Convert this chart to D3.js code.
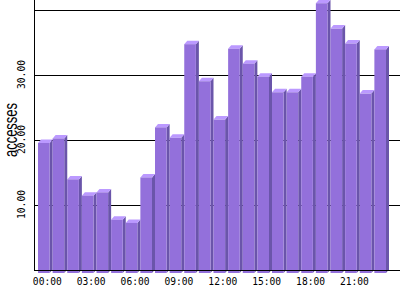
<!DOCTYPE html>
<html><head><meta charset="utf-8">
<script src="https://cdn.jsdelivr.net/npm/d3@7"></script>
<style>html,body{margin:0;padding:0;background:#fff;overflow:hidden}</style>
</head><body>
<svg id="c" width="400" height="300"></svg>
<script>
const hours = ["00:00","01:00","02:00","03:00","04:00","05:00","06:00","07:00","08:00","09:00","10:00","11:00",
               "12:00","13:00","14:00","15:00","16:00","17:00","18:00","19:00","20:00","21:00","22:00","23:00"];
const accesses = [20.0,20.7,14.4,11.9,12.4,8.2,7.7,14.7,22.4,20.8,35.2,29.5,
                  23.6,34.5,32.2,30.2,27.8,27.8,30.2,41.5,37.6,35.3,27.6,34.4];
const gridTicks = [10,20,30,40];
const yTickLabels = [10,20,30];
const xTickLabels = ["00:00","03:00","06:00","09:00","12:00","15:00","18:00","21:00"];

const svg = d3.select("#c");
const left = 34.5, right = 400, bottom = 270;
const x = d3.scaleBand().domain(hours).range([35, 386]).padding(0);
const y = d3.scaleLinear().domain([0, 40]).range([269.5, 9.5]);
const dx = 3, dy = 3.5;
const bw = x.bandwidth();

// gridlines (behind bars)
svg.append("g").selectAll("line").data(gridTicks).join("line")
  .attr("x1", left).attr("x2", right)
  .attr("y1", d => Math.round(y(d)) + 0.5).attr("y2", d => Math.round(y(d)) + 0.5)
  .attr("stroke", "#000").attr("shape-rendering", "crispEdges");

// bars
const g = svg.append("g");
hours.forEach((h, i) => {
  const v = accesses[i];
  const bx = x(h) + 3, w = bw - dx;
  const yt = y(v), y0 = y(0);
  g.append("path").attr("fill", "#6a55aa")
    .attr("d", `M${bx+w},${yt+dy}L${bx+w+dx},${yt}L${bx+w+dx},${y0}L${bx+w},${y0+dy}Z`);
  g.append("path").attr("fill", "#bb99ff")
    .attr("d", `M${bx},${yt+dy}L${bx+dx},${yt}L${bx+w+dx},${yt}L${bx+w},${yt+dy}Z`);
  g.append("rect").attr("fill", "#9370db")
    .attr("x", bx).attr("y", yt + dy).attr("width", w).attr("height", y0 - yt);
});

// axis lines
svg.append("line").attr("x1", left).attr("x2", left).attr("y1", 0).attr("y2", bottom + 0.5)
  .attr("stroke", "#000").attr("shape-rendering", "crispEdges");
svg.append("line").attr("x1", left).attr("x2", right).attr("y1", bottom + 0.5).attr("y2", bottom + 0.5)
  .attr("stroke", "#000").attr("shape-rendering", "crispEdges");

// y tick labels
svg.append("g").selectAll("text").data(yTickLabels).join("text")
  .attr("transform", d => `translate(25,${y(d)}) rotate(-90)`)
  .attr("text-anchor", "middle")
  .attr("font-family", "DejaVu Sans Mono").attr("font-size", "9.6px").attr("fill", "#000")
  .text(d => d.toFixed(2));

// x tick labels
svg.append("g").selectAll("text").data(xTickLabels).join("text")
  .attr("x", d => x(d) + bw / 2 + 5).attr("y", 284.5)
  .attr("text-anchor", "middle")
  .attr("font-family", "DejaVu Sans Mono").attr("font-size", "9.6px").attr("fill", "#000")
  .text(d => d);

// y title
svg.append("text")
  .attr("transform", "translate(16.5,130) rotate(-90)")
  .attr("text-anchor", "middle")
  .attr("font-family", "Liberation Sans").attr("font-size", "18px").attr("fill", "#000")
  .attr("textLength", 54).attr("lengthAdjust", "spacingAndGlyphs")
  .text("accesses");
</script>
</body></html>
